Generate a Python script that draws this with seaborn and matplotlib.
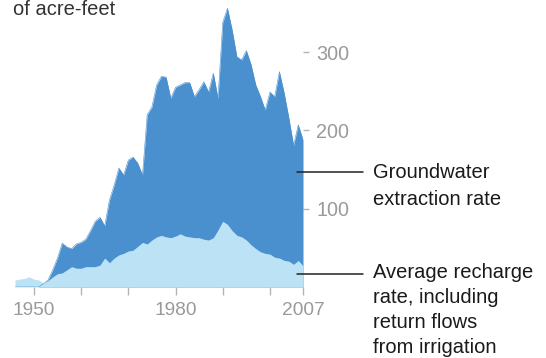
import numpy as np
import pandas as pd
import seaborn as sns
import matplotlib.pyplot as plt

# Years shown on the chart
years = list(range(1946, 2008))

# Groundwater extraction rate, thousands of acre-feet
extraction = [
    0, 0, 0, 0, 0, 0, 4, 9, 22, 37,
    56, 51, 49, 55, 57, 61, 72, 84, 89, 78,
    111, 130, 152, 143, 162, 166, 158, 143, 220, 230,
    258, 269, 268, 241, 255, 258, 261, 261, 243, 252,
    262, 249, 273, 241, 338, 356, 328, 294, 290, 302,
    284, 258, 243, 226, 249, 243, 275, 248, 216, 181,
    207, 188,
]

# Average recharge rate, including return flows from irrigation
recharge = [
    9, 10, 11, 13, 10, 9, 5, 8, 13, 17,
    18, 22, 26, 24, 24, 26, 26, 26, 28, 37,
    31, 37, 41, 43, 46, 47, 52, 57, 55, 60,
    64, 66, 64, 63, 65, 68, 65, 64, 63, 63,
    61, 60, 63, 73, 84, 80, 72, 66, 64, 60,
    54, 49, 45, 43, 42, 38, 37, 34, 33, 29,
    34, 27,
]

x_ticks = [1950, 1960, 1970, 1980, 1990, 2000, 2007]
x_tick_labels = ["1950", "", "", "1980", "", "", "2007"]
y_ticks = [100, 200, 300]

df = pd.DataFrame({"year": years, "extraction": extraction, "recharge": recharge})

sns.set_theme(style="white")
plt.rcParams["font.family"] = ["Liberation Sans", "DejaVu Sans"]

dark_blue = "#4a90ce"
light_blue = "#bbe2f5"
tick_gray = "#9a9a9a"

W, H = 546, 358
fig = plt.figure(figsize=(W / 100, H / 100), dpi=100)
ax = fig.add_axes([15 / W, 71 / H, 288 / W, 285.8 / H])

ax.fill_between(df["year"], 0, df["extraction"], color=dark_blue, linewidth=0)
ax.fill_between(df["year"], 0, df["recharge"], color=light_blue, linewidth=0)
sns.lineplot(data=df, x="year", y="extraction", ax=ax, color=dark_blue, linewidth=0.4)

ax.set_xlim(1946, 2007)
ax.set_ylim(0, 365)
ax.set_xlabel("")
ax.set_ylabel("")

ax.set_xticks(x_ticks)
ax.set_xticklabels(x_tick_labels)
ax.set_yticks(y_ticks)
ax.yaxis.tick_right()
ax.tick_params(axis="x", direction="out", length=5.5, width=1, color="#b5b5b5",
               labelcolor=tick_gray, labelsize=13.8, pad=5, bottom=True)
ax.tick_params(axis="y", direction="out", length=4.5, width=1, color="#b5b5b5",
               labelcolor=tick_gray, labelsize=14.2, pad=5, right=True, left=False)
for s in ax.spines.values():
    s.set_visible(False)

# annotation leader lines
ax.plot([2005.7, 2019.7], [147, 147], color="#222222", lw=1.1, clip_on=False)
ax.plot([2005.7, 2019.7], [16, 16], color="#222222", lw=1.1, clip_on=False)

fig.text(373 / W, 1 - 163 / H, "Groundwater\nextraction rate", fontsize=14.5,
         color="#1a1a1a", va="top", ha="left", linespacing=1.5)
fig.text(373 / W, 1 - 263 / H, "Average recharge\nrate, including\nreturn flows\nfrom irrigation",
         fontsize=14.5, color="#1a1a1a", va="top", ha="left", linespacing=1.4)
fig.text(13 / W, 1 - 15 / H, "of acre-feet", fontsize=14.5, color="#333333",
         va="baseline", ha="left")

fig.savefig("out.png", dpi=100)
